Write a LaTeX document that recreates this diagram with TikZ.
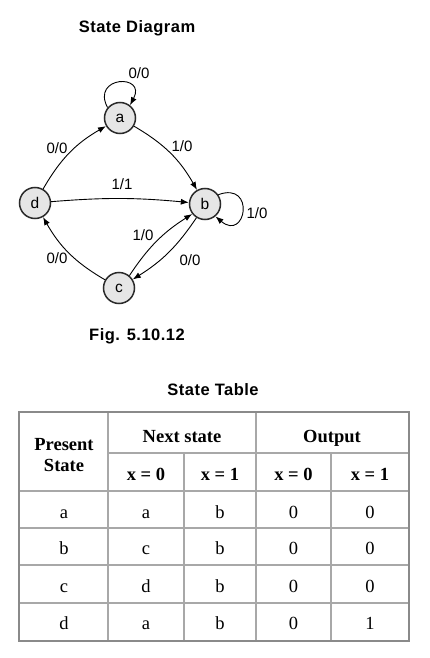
\documentclass[tikz,border=0pt]{standalone}
\usepackage{fontspec}
\setmainfont{Liberation Serif}
\newfontfamily\arialf{Liberation Sans}
\newfontfamily\titlef[LetterSpace=3]{Liberation Sans}
\usetikzlibrary{arrows.meta}
\definecolor{nodefill}{HTML}{E6E6E6}
\definecolor{nodeline}{HTML}{2A2A2A}
\definecolor{outerline}{HTML}{8A8A8A}
\definecolor{innerline}{HTML}{A8A8A8}
\begin{document}
\begin{tikzpicture}[x=1pt,y=1pt,
  state/.style={circle,draw=nodeline,line width=1.5pt,fill=nodefill,minimum size=31pt,inner sep=0pt,font=\arialf\fontsize{15.5}{18}\selectfont},
  trans/.style={draw,line width=0.9pt,-{Latex[length=8pt,width=6pt]}},
  elab/.style={font=\arialf\fontsize{15}{18}\selectfont,inner sep=0pt},
  ttl/.style={font=\titlef\bfseries\fontsize{16.5}{19}\selectfont,anchor=base,inner sep=0pt},
  tb/.style={font=\bfseries\fontsize{18.5}{22}\selectfont,anchor=base,inner sep=0pt},
  tr/.style={font=\fontsize{18.5}{22}\selectfont,anchor=base,inner sep=0pt},
  outer/.style={draw=outerline,line width=2pt},
  inner/.style={draw=innerline,line width=1.1pt}]
\fill[white] (0,0) rectangle (430,-658);
\useasboundingbox (0,0) rectangle (430,-658);

% ---- State diagram ----
\node[ttl] (title) at (137,-32.5) {State Diagram};
\node[state] (a) at (120,-118) {a};
\node[state] (b) at (205,-204) {b};
\node[state] (d) at (35,-203) {d};
\node[state] (c) at (119,-288) {c};

\draw[trans] (a.140) .. controls +(118:36) and +(62:36) .. (a.52);
\draw[trans] (b.35) .. controls +(20:40) and +(-40:40) .. (b.-50);
\draw[trans] (d) to[bend left=15] (a);
\draw[trans] (a) to[bend left=15] (b);
\draw[trans] (d) to[bend left=5] (b);
\draw[trans] (b.238) to[bend left=12] (c.32);
\draw[trans] (c.50) to[bend left=12] (b.218);
\draw[trans] (c) to[bend left=15] (d);

\node[elab] (la) at (139,-73) {0/0};
\node[elab] (lab) at (182,-146) {1/0};
\node[elab] (lda) at (57,-148) {0/0};
\node[elab] (ldb) at (122,-184) {1/1};
\node[elab] (lb) at (257,-213) {1/0};
\node[elab] (lcb) at (143,-235) {1/0};
\node[elab] (lbc) at (190,-260) {0/0};
\node[elab] (lcd) at (57,-258) {0/0};

\node[ttl] (fig) at (137,-340.5) {Fig. 5.10.12};

% ---- State table ----
\node[ttl] (ttitle) at (213,-395) {State Table};

\draw[inner] (108,-453) -- (409,-453);
\draw[inner] (19,-491) -- (409,-491);
\draw[inner] (19,-528) -- (409,-528);
\draw[inner] (19,-565) -- (409,-565);
\draw[inner] (19,-603) -- (409,-603);
\draw[inner] (108,-412) -- (108,-641);
\draw[inner] (184,-453) -- (184,-641);
\draw[inner] (256,-412) -- (256,-641);
\draw[inner] (331,-453) -- (331,-641);
\draw[outer] (19,-412) rectangle (409,-641);

\node[tb] (p1) at (64,-450) {Present};
\node[tb] (p2) at (64,-471) {State};
\node[tb] (ns) at (182,-442) {Next state};
\node[tb] (op) at (332,-442) {Output};
\node[tb] (h1) at (146,-480) {x = 0};
\node[tb] (h2) at (220,-480) {x = 1};
\node[tb] (h3) at (293.5,-480) {x = 0};
\node[tb] (h4) at (370,-480) {x = 1};

\foreach \y/\p/\n/\m/\o/\q [count=\i] in {518/a/a/b/0/0, 554.5/b/c/b/0/0, 592/c/d/b/0/0, 629/d/a/b/0/1}{
  \node[tr] (r\i p) at (64,-\y) {\p};
  \node[tr] (r\i n) at (146,-\y) {\n};
  \node[tr] (r\i m) at (220,-\y) {\m};
  \node[tr] (r\i o) at (293.5,-\y) {\o};
  \node[tr] (r\i q) at (370,-\y) {\q};
}
\end{tikzpicture}
\end{document}
